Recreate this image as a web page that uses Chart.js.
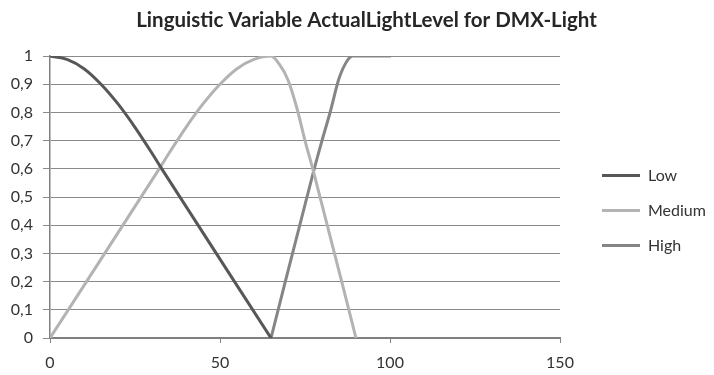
<!DOCTYPE html>
<html>
<head>
<meta charset="utf-8">
<script src="https://cdn.jsdelivr.net/npm/chart.js@4.4.1/dist/chart.umd.min.js"></script>
<style>
  html, body { margin: 0; padding: 0; background: #ffffff; }
  #wrap { width: 714px; height: 375px; }
</style>
</head>
<body>
<div id="wrap"><canvas id="c" width="714" height="375"></canvas></div>
<script>
// ---- data ----
const chartTitle = 'Linguistic Variable ActualLightLevel for DMX-Light';
const seriesNames = ['Low', 'Medium', 'High'];

const lowX = [0, 5, 10, 15, 20, 25, 30, 32.5, 65];
const lowY = [1, 0.988, 0.955, 0.9, 0.83, 0.747, 0.655, 0.607, 0];

const mediumX = [0, 32.5, 35, 40, 45, 50, 55, 60, 65, 67.5, 70, 72.5, 75, 77.5, 90];
const mediumY = [0, 0.607, 0.655, 0.747, 0.83, 0.9, 0.955, 0.988, 1, 0.97, 0.915, 0.82, 0.70, 0.59, 0];

const highX = [65, 77.5, 80, 82.5, 85, 87.5, 89, 100];
const highY = [0, 0.59, 0.70, 0.805, 0.92, 0.985, 1, 1];

const xTickValues = [0, 50, 100, 150];
const yTickLabels = ['0', '0,1', '0,2', '0,3', '0,4', '0,5', '0,6', '0,7', '0,8', '0,9', '1'];

const seriesColors = ['#575757', '#b3b3b3', '#858585'];

// ---- build datasets ----
function pts(xs, ys) { return xs.map((x, i) => ({ x: x, y: ys[i] })); }
const seriesX = [lowX, mediumX, highX];
const seriesY = [lowY, mediumY, highY];

const datasets = seriesNames.map((name, i) => ({
  label: name,
  data: pts(seriesX[i], seriesY[i]),
  borderColor: seriesColors[i],
  backgroundColor: seriesColors[i],
  borderWidth: 3,
  pointRadius: 0,
  pointHoverRadius: 0,
  fill: false,
  cubicInterpolationMode: 'monotone',
  borderCapStyle: 'round',
  borderJoinStyle: 'round'
}));

Chart.defaults.font.family = 'Lato, "Open Sans", "Liberation Sans", sans-serif';
Chart.defaults.color = '#333333';

const legendPlace = {
  id: 'legendPlace',
  beforeLayout(chart) {
    const lg = chart.legend;
    if (lg && !lg.__patched) {
      const fit = lg.fit;
      lg.fit = function () { fit.call(this); this.width = 154; };
      lg.__patched = true;
    }
  },
  afterLayout(chart) {
    const lg = chart.legend;
    if (!lg) return;
    lg.left += 23; lg.right += 23;
    lg.top += 23; lg.bottom += 23;
  }
};

function noLabelClip(scale) { scale._computeLabelArea = () => undefined; }

new Chart(document.getElementById('c'), {
  type: 'line',
  data: { datasets: datasets },
  plugins: [legendPlace],
  options: {
    responsive: false,
    animation: false,
    devicePixelRatio: 1,
    layout: { padding: { left: 19, right: 0, top: 0, bottom: 0 } },
    plugins: {
      title: {
        display: true,
        text: chartTitle,
        color: '#262626',
        font: { size: 20.5, weight: 'bold' },
        padding: { top: 8, bottom: 23.4 }
      },
      legend: {
        display: true,
        position: 'right',
        align: 'center',
        labels: {
          boxWidth: 38,
          boxHeight: 3,
          padding: 19,
          color: '#333333',
          font: { size: 16 },
          generateLabels(chart) {
            const items = Chart.defaults.plugins.legend.labels.generateLabels(chart);
            items.forEach(it => { it.fillStyle = it.strokeStyle; it.lineWidth = 0; });
            return items;
          }
        }
      },
      tooltip: { enabled: false }
    },
    scales: {
      x: {
        type: 'linear',
        min: 0,
        max: 150,
        afterBuildTicks(scale) { scale.ticks = xTickValues.map(v => ({ value: v })); },
        afterFit(scale) { scale.height = 37; noLabelClip(scale); },
        ticks: {
          padding: 10,
          color: '#333333',
          font: { size: 16 },
          maxRotation: 0,
          callback: (v) => String(v)
        },
        grid: {
          drawOnChartArea: false,
          drawTicks: true,
          tickLength: 5,
          color: '#868686',
          lineWidth: 1
        },
        border: { display: true, color: '#808080', width: 2 }
      },
      y: {
        type: 'linear',
        min: 0,
        max: 1,
        afterBuildTicks(scale) { scale.ticks = yTickLabels.map((t, i) => ({ value: i / 10 })); },
        afterFit(scale) { scale.width = 31; noLabelClip(scale); },
        ticks: {
          padding: 10,
          color: '#333333',
          font: { size: 16 },
          callback: (v, i) => yTickLabels[i]
        },
        grid: {
          drawOnChartArea: true,
          drawTicks: true,
          tickLength: 7,
          color: '#8a8a8a',
          lineWidth: 1
        },
        border: { display: true, color: '#808080', width: 1.5 }
      }
    }
  }
});
</script>
</body>
</html>
